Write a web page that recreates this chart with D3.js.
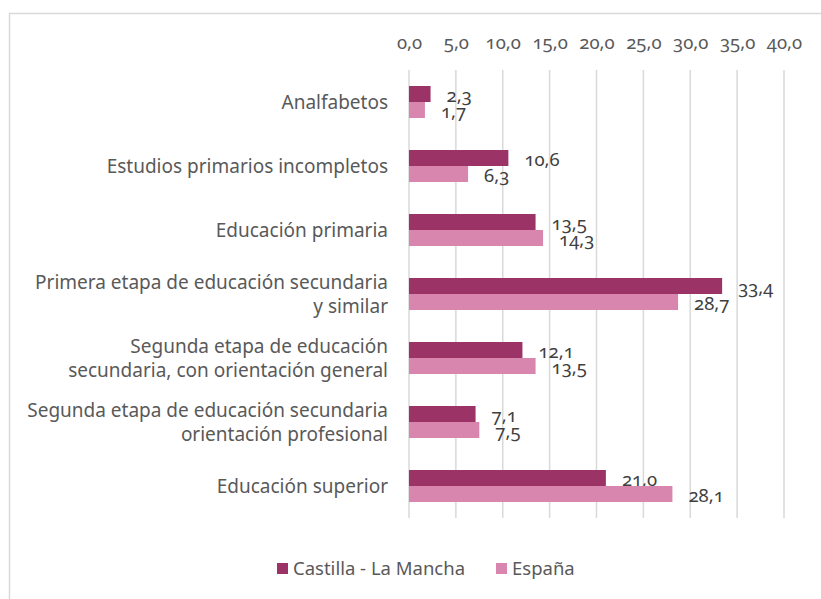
<!DOCTYPE html>
<html>
<head>
<meta charset="utf-8">
<script src="https://cdn.jsdelivr.net/npm/d3@7"></script>
<style>
  body { margin: 0; background: #fff; }
  svg text { font-family: 'Noto Sans', sans-serif; font-variant-numeric: oldstyle-nums; }
</style>
</head>
<body>
<div id="chart"></div>
<script>
// Categories (each entry is the wrapped label lines)
var categories = [
  ['Analfabetos'],
  ['Estudios primarios incompletos'],
  ['Educación primaria'],
  ['Primera etapa de educación secundaria', 'y similar'],
  ['Segunda etapa de educación', 'secundaria, con orientación general'],
  ['Segunda etapa de educación secundaria', 'orientación profesional'],
  ['Educación superior']
]

// Series values
var castillaValues = [2.3, 10.6, 13.5, 33.4, 12.1, 7.1, 21.0]
var espanaValues = [1.7, 6.3, 14.3, 28.7, 13.5, 7.5, 28.1]

var seriesNames = ['Castilla - La Mancha', 'España']
var seriesColors = ['#9b3366', '#d986ae']

// Tick values on the top axis
var tickValues = [0, 5, 10, 15, 20, 25, 30, 35, 40]

var width = 821
var height = 599
var margin = { top: 70, right: 37, bottom: 81, left: 409 }

var fmt = function (v) { return v.toFixed(1).replace('.', ',') }

var svg = d3.select('#chart').append('svg')
  .attr('width', width)
  .attr('height', height)

// Chart area border
svg.append('rect')
  .attr('x', 9.5)
  .attr('y', 13.5)
  .attr('width', width + 20)
  .attr('height', height + 20)
  .attr('fill', 'none')
  .attr('stroke', '#d9d9d9')
  .attr('stroke-width', 1.5)

var x = d3.scaleLinear()
  .domain([0, 40])
  .range([margin.left, width - margin.right])

var y = d3.scaleBand()
  .domain(d3.range(categories.length))
  .range([margin.top, height - margin.bottom])
  .paddingInner(0.5)
  .paddingOuter(0.25)

var inner = d3.scaleBand()
  .domain(d3.range(seriesNames.length))
  .range([0, y.bandwidth()])

// Gridlines
svg.append('g')
  .selectAll('line')
  .data(tickValues)
  .enter().append('line')
  .attr('x1', function (d) { return x(d) })
  .attr('x2', function (d) { return x(d) })
  .attr('y1', margin.top)
  .attr('y2', height - margin.bottom)
  .attr('stroke', '#d9d9d9')
  .attr('stroke-width', 1.5)

// Top axis labels
var xAxis = d3.axisTop(x)
  .tickValues(tickValues)
  .tickFormat(fmt)
  .tickSize(0)
  .tickPadding(0)

var axisG = svg.append('g')
  .attr('transform', 'translate(0,' + 49 + ')')
  .call(xAxis)
axisG.select('.domain').remove()
axisG.selectAll('text')
  .attr('fill', '#595959')
  .style('font-size', '18.5px')

// Bars
var series = [castillaValues, espanaValues]
series.forEach(function (values, s) {
  var g = svg.append('g')
  g.selectAll('rect')
    .data(values)
    .enter().append('rect')
    .attr('x', x(0))
    .attr('y', function (d, i) { return y(i) + inner(s) })
    .attr('width', function (d) { return x(d) - x(0) })
    .attr('height', inner.bandwidth())
    .attr('fill', seriesColors[s])

  // Value labels
  g.selectAll('text')
    .data(values)
    .enter().append('text')
    .attr('x', function (d) { return x(d) + 16 })
    .attr('y', function (d, i) { return y(i) + inner(s) + inner.bandwidth() / 2 + 8 })
    .attr('fill', '#404040')
    .style('font-size', '18.5px')
    .text(fmt)
})

// Category labels
var catG = svg.append('g')
  .selectAll('text')
  .data(categories)
  .enter().append('text')
  .attr('text-anchor', 'end')
  .attr('fill', '#595959')
  .style('font-size', '19px')

catG.each(function (lines, i) {
  var t = d3.select(this)
  var c = y(i) + y.bandwidth() / 2
  lines.forEach(function (line, j) {
    t.append('tspan')
      .attr('x', 388)
      .attr('y', c + (j - (lines.length - 1) / 2) * 24)
      .attr('dy', '0.35em')
      .text(line)
  })
})

// Legend
var legend = svg.append('g')
var legendX = [277, 496]
seriesNames.forEach(function (name, s) {
  legend.append('rect')
    .attr('x', legendX[s])
    .attr('y', 563)
    .attr('width', 11)
    .attr('height', 11)
    .attr('fill', seriesColors[s])
  legend.append('text')
    .attr('x', legendX[s] + 16)
    .attr('y', 569)
    .attr('dy', '0.35em')
    .attr('fill', '#595959')
    .style('font-size', '18.5px')
    .text(name)
})
</script>
</body>
</html>
